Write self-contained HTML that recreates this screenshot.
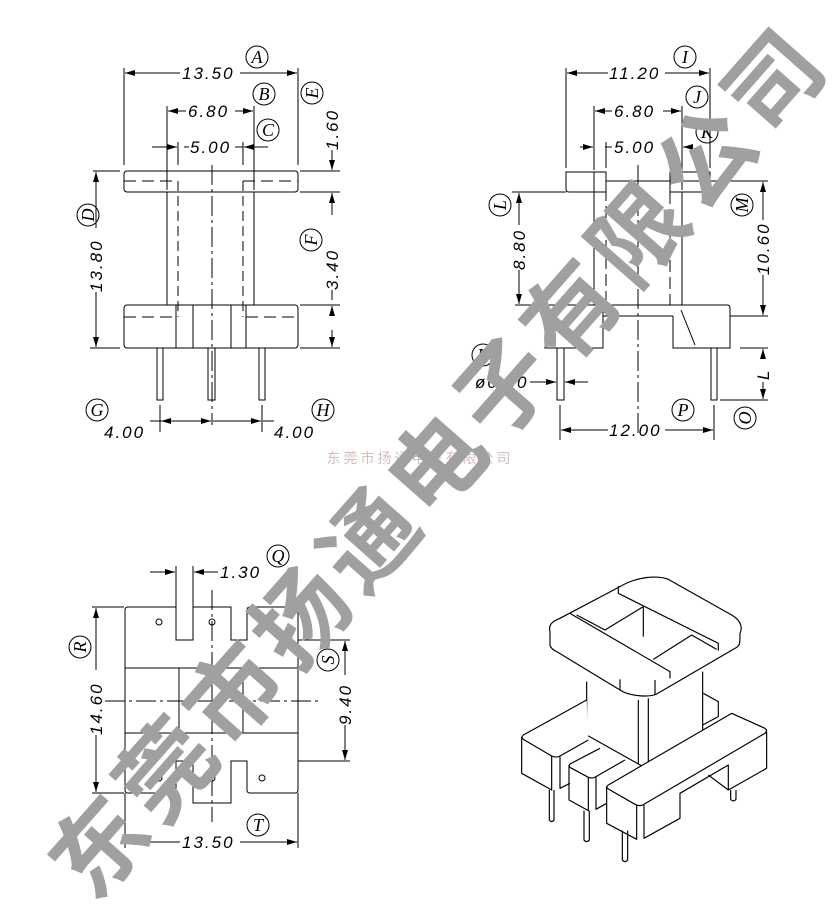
<!DOCTYPE html>
<html><head><meta charset="utf-8"><style>
html,body{margin:0;padding:0;background:#fff;}
svg{display:block;}
.n{font-family:"Liberation Sans",sans-serif;font-style:italic;font-size:17px;fill:#000;letter-spacing:2px}
.c{font-family:"Liberation Serif",serif;font-style:italic;font-size:18px;fill:#000;text-anchor:middle}
</style></head><body>
<svg width="839" height="910" viewBox="0 0 839 910" xmlns="http://www.w3.org/2000/svg">
<defs>
<marker id="a" viewBox="0 0 10 6" refX="10" refY="3" markerWidth="10" markerHeight="6" orient="auto-start-reverse" markerUnits="userSpaceOnUse"><path d="M0,0 L10,3 L0,6 Z" fill="#000"/></marker>
</defs>
<g stroke="#000" stroke-width="1" fill="none">
<!-- VIEW 1 -->
<rect x="124" y="171" width="174" height="21" rx="3"/>
<line x1="167" y1="192" x2="167" y2="305"/><line x1="254" y1="192" x2="254" y2="305"/>
<line x1="178" y1="181" x2="178" y2="317" stroke-dasharray="10,5"/><line x1="243" y1="181" x2="243" y2="317" stroke-dasharray="10,5"/>
<line x1="124" y1="181" x2="178" y2="181" stroke-dasharray="12,6"/><line x1="243" y1="181" x2="298" y2="181" stroke-dasharray="12,6"/>
<rect x="124" y="305" width="174" height="43" rx="3"/>
<line x1="124" y1="317" x2="176" y2="317" stroke-dasharray="12,6"/><line x1="246" y1="317" x2="298" y2="317" stroke-dasharray="12,6"/>
<line x1="176" y1="305" x2="176" y2="348"/><line x1="193" y1="305" x2="193" y2="348"/><line x1="231" y1="305" x2="231" y2="348"/><line x1="246" y1="305" x2="246" y2="348"/>
<line x1="212" y1="165" x2="212" y2="425" stroke-dasharray="20,4,3,4"/>
<rect x="157" y="348" width="6" height="52"/><rect x="208" y="348" width="7" height="52"/><rect x="259" y="348" width="6" height="52"/>
<line x1="124" y1="68" x2="124" y2="165"/><line x1="298" y1="68" x2="298" y2="165"/>
<line x1="167" y1="106" x2="167" y2="190"/><line x1="254" y1="106" x2="254" y2="190"/>
<line x1="178" y1="142" x2="178" y2="165"/><line x1="243" y1="142" x2="243" y2="165"/>
<line x1="125" y1="73" x2="180" y2="73" marker-start="url(#a)"/><line x1="240" y1="73" x2="297" y2="73" marker-end="url(#a)"/>
<line x1="168" y1="111" x2="186" y2="111" marker-start="url(#a)"/><line x1="235" y1="111" x2="253" y2="111" marker-end="url(#a)"/>
<line x1="152" y1="147" x2="177" y2="147" marker-end="url(#a)"/><line x1="268" y1="147" x2="244" y2="147" marker-end="url(#a)"/>
<line x1="184" y1="147" x2="189" y2="147"/><line x1="235" y1="147" x2="243" y2="147"/>
<line x1="93" y1="171" x2="120" y2="171"/><line x1="300" y1="171" x2="340" y2="171"/><line x1="300" y1="192" x2="340" y2="192"/>
<line x1="300" y1="305" x2="340" y2="305"/><line x1="90" y1="348" x2="120" y2="348"/><line x1="300" y1="348" x2="340" y2="348"/>
<line x1="96" y1="172" x2="96" y2="228" marker-start="url(#a)"/><line x1="96" y1="292" x2="96" y2="347" marker-end="url(#a)"/>
<line x1="332" y1="150" x2="332" y2="170" marker-end="url(#a)"/><line x1="332" y1="215" x2="332" y2="193" marker-end="url(#a)"/>
<line x1="332" y1="306" x2="332" y2="315" marker-start="url(#a)"/><line x1="332" y1="290" x2="332" y2="300"/><line x1="332" y1="330" x2="332" y2="347" marker-end="url(#a)"/>
<line x1="160" y1="405" x2="160" y2="432"/><line x1="262" y1="405" x2="262" y2="432"/>
<line x1="150" y1="421" x2="211" y2="421" marker-end="url(#a)"/><line x1="211" y1="421" x2="161" y2="421" marker-end="url(#a)"/>
<line x1="213" y1="421" x2="261" y2="421" marker-end="url(#a)"/><line x1="274" y1="421" x2="263" y2="421"/>

<!-- VIEW 2 -->
<path d="M566,172 H606 V192 H569 Q566,192 566,189 Z"/>
<path d="M670,172 H710 V189 Q710,192 707,192 H670 Z"/>
<line x1="606" y1="181" x2="768" y2="181"/>
<line x1="594" y1="172" x2="594" y2="305"/><line x1="682" y1="192" x2="682" y2="305"/>
<line x1="606" y1="172" x2="606" y2="305" stroke-dasharray="12,5"/><line x1="670" y1="192" x2="670" y2="305" stroke-dasharray="12,5"/>
<path d="M515,305 H727 Q730,305 730,308 V348 H673 V316"/>
<path d="M545,305 V348 H603 V305"/>
<line x1="603" y1="316" x2="673" y2="316"/><line x1="730" y1="316" x2="768" y2="316"/>
<line x1="580" y1="325" x2="575" y2="345"/><line x1="681" y1="310" x2="695" y2="345"/>
<line x1="638" y1="165" x2="638" y2="435" stroke-dasharray="20,4,3,4"/>
<rect x="557" y="348" width="7" height="52"/><rect x="711" y="348" width="6" height="52"/>
<line x1="566" y1="68" x2="566" y2="168"/><line x1="710" y1="68" x2="710" y2="168"/>
<line x1="594" y1="106" x2="594" y2="170"/><line x1="682" y1="106" x2="682" y2="190"/>
<line x1="606" y1="142" x2="606" y2="168"/><line x1="670" y1="142" x2="670" y2="168"/>
<line x1="567" y1="73" x2="608" y2="73" marker-start="url(#a)"/><line x1="665" y1="73" x2="709" y2="73" marker-end="url(#a)"/>
<line x1="595" y1="111" x2="612" y2="111" marker-start="url(#a)"/><line x1="663" y1="111" x2="681" y2="111" marker-end="url(#a)"/>
<line x1="580" y1="147" x2="593" y2="147" marker-end="url(#a)"/><line x1="692" y1="147" x2="683" y2="147" marker-end="url(#a)"/>
<line x1="605" y1="147" x2="612" y2="147"/>
<line x1="512" y1="192" x2="566" y2="192"/><line x1="740" y1="348" x2="768" y2="348"/><line x1="720" y1="400" x2="768" y2="400"/>
<line x1="519" y1="193" x2="519" y2="225" marker-start="url(#a)"/><line x1="519" y1="270" x2="519" y2="304" marker-end="url(#a)"/>
<line x1="763" y1="182" x2="763" y2="220" marker-start="url(#a)"/><line x1="763" y1="275" x2="763" y2="315" marker-end="url(#a)"/>
<line x1="763" y1="349" x2="763" y2="358" marker-start="url(#a)"/><line x1="763" y1="382" x2="763" y2="399" marker-end="url(#a)"/>
<line x1="560" y1="405" x2="560" y2="440"/><line x1="714" y1="405" x2="714" y2="440"/>
<line x1="561" y1="430" x2="608" y2="430" marker-start="url(#a)"/><line x1="665" y1="430" x2="713" y2="430" marker-end="url(#a)"/>
<line x1="530" y1="382" x2="556" y2="382" marker-end="url(#a)"/><line x1="588" y1="382" x2="565" y2="382" marker-end="url(#a)"/>

<!-- VIEW 3 -->
<path d="M128,607 H176 V640 H193 V607 H231 V640 H247 V610 Q247,607 250,607 H295 Q298,607 298,610 V790 Q298,793 295,793 H250 Q247,793 247,790 V761 H231 V803 H193 V761 H176 V790 Q176,793 173,793 H128 Q125,793 125,790 V610 Q125,607 128,607 Z"/>
<line x1="298" y1="640" x2="350" y2="640"/><line x1="298" y1="761" x2="350" y2="761"/>
<line x1="125" y1="668" x2="298" y2="668"/><line x1="125" y1="733" x2="298" y2="733"/>
<line x1="179" y1="668" x2="179" y2="733"/><line x1="243" y1="668" x2="243" y2="733"/>
<line x1="105" y1="701" x2="320" y2="701" stroke-dasharray="20,4,3,4"/>
<line x1="212" y1="590" x2="212" y2="822" stroke-dasharray="20,4,3,4"/>
<circle cx="159" cy="622" r="3"/><circle cx="212" cy="622" r="3"/><circle cx="262" cy="622" r="3"/>
<circle cx="159" cy="778" r="3"/><circle cx="212" cy="778" r="3"/><circle cx="262" cy="778" r="3"/>
<line x1="176" y1="566" x2="176" y2="607"/><line x1="193" y1="566" x2="193" y2="607"/>
<line x1="150" y1="572" x2="175" y2="572" marker-end="url(#a)"/><line x1="218" y1="572" x2="194" y2="572" marker-end="url(#a)"/>
<line x1="92" y1="607" x2="124" y2="607"/><line x1="92" y1="793" x2="124" y2="793"/>
<line x1="125" y1="793" x2="125" y2="848"/><line x1="298" y1="793" x2="298" y2="848"/>
<line x1="96" y1="608" x2="96" y2="670" marker-start="url(#a)"/><line x1="96" y1="735" x2="96" y2="792" marker-end="url(#a)"/>
<line x1="345" y1="641" x2="345" y2="675" marker-start="url(#a)"/><line x1="345" y1="725" x2="345" y2="760" marker-end="url(#a)"/>
<line x1="126" y1="842" x2="180" y2="842" marker-start="url(#a)"/><line x1="240" y1="842" x2="297" y2="842" marker-end="url(#a)"/>

<!-- 3D view -->
<g transform="translate(510,560) scale(0.3333)" stroke-width="3.5" stroke-linejoin="round">
<path d="M230,365 V525 L385,612 C395,620 410,620 415,615 L578,530 V335"/>
<line x1="385" y1="420" x2="385" y2="612"/><line x1="415" y1="415" x2="415" y2="615"/>
<path d="M120,215 C115,195 125,185 150,175 L330,80 C380,50 440,45 475,58 L665,165 C700,185 695,210 690,220 L460,352 C440,362 370,362 340,356 L150,245 C128,235 120,228 120,215 Z" fill="#fff"/>
<path d="M120,215 V255 C122,265 130,270 140,275 L330,390 C360,410 420,412 440,402 L680,262 C690,255 690,250 690,220" fill="#fff"/>
<line x1="330" y1="358" x2="330" y2="392"/><line x1="435" y1="360" x2="435" y2="405"/>
<path d="M180,160 L480,335 V355"/>
<path d="M325,78 V100 L625,250 V272"/>
<path d="M200,165 L285,210 L400,140"/><line x1="400" y1="140" x2="400" y2="230"/>
<path d="M430,298 L545,225 L620,268"/>
<path d="M580,400 L625,425 V470 L578,495"/>
<path d="M230,420 L40,525 C35,530 35,535 40,538 L125,588 C135,592 145,592 150,588 L235,540" fill="#fff"/>
<path d="M35,530 V640 L125,690 V588 M150,590 V685 L180,670"/>
<path d="M118,690 V780 Q125,790 132,780 V690"/>
<path d="M270,565 L180,612 C175,618 178,622 185,625 L235,652 C245,656 252,654 258,650 L345,600" fill="#fff"/>
<path d="M177,615 V720 L235,752 V652 M258,652 V748 L290,730"/>
<path d="M222,752 V840 Q230,850 238,840 V752"/>
<path d="M665,460 L295,675 C288,680 290,684 295,687 L375,733 C385,738 395,738 402,733 L765,520 C772,512 770,510 765,505 Z" fill="#fff"/>
<path d="M290,680 V790 L380,838 V735 M402,735 V835 L510,775 V700 L655,615 V690 L770,625 V515"/>
<path d="M595,645 L655,690"/>
<path d="M337,812 V900 Q345,910 353,900 V812"/>
<path d="M662,690 V718 Q670,728 678,718 V690"/>
</g>
</g>

<!-- text -->
<g>
<text class="n" x="182" y="79">13.50</text>
<text class="n" x="188" y="117">6.80</text>
<text class="n" x="190" y="153">5.00</text>
<text class="n" transform="translate(102,292) rotate(-90)">13.80</text>
<text class="n" transform="translate(338,150) rotate(-90)">1.60</text>
<text class="n" transform="translate(338,290) rotate(-90)">3.40</text>
<text class="n" x="104" y="438">4.00</text>
<text class="n" x="274" y="438">4.00</text>
<text class="n" x="609" y="79">11.20</text>
<text class="n" x="614" y="117">6.80</text>
<text class="n" x="614" y="153">5.00</text>
<text class="n" transform="translate(525,270) rotate(-90)">8.80</text>
<text class="n" transform="translate(769,275) rotate(-90)">10.60</text>
<text class="n" transform="translate(769,380) rotate(-90)">L</text>
<text class="n" x="475" y="388">ø0.60</text>
<text class="n" x="609" y="436">12.00</text>
<text class="n" x="220" y="578">1.30</text>
<text class="n" transform="translate(102,735) rotate(-90)">14.60</text>
<text class="n" transform="translate(351,725) rotate(-90)">9.40</text>
<text class="n" x="182" y="848">13.50</text>
</g>
<g fill="none" stroke="#000">
<circle cx="257" cy="57" r="11"/><circle cx="264" cy="94" r="11"/><circle cx="268" cy="130" r="11"/><circle cx="312" cy="93" r="11"/>
<circle cx="88" cy="215" r="11"/><circle cx="311" cy="240" r="11"/><circle cx="97" cy="410" r="11"/><circle cx="323" cy="410" r="11"/>
<circle cx="685" cy="57" r="11"/><circle cx="697" cy="97" r="11"/><circle cx="707" cy="132" r="11"/><circle cx="500" cy="205" r="11"/>
<circle cx="742" cy="205" r="11"/><circle cx="483" cy="355" r="11"/><circle cx="745" cy="418" r="11"/><circle cx="683" cy="410" r="11"/>
<circle cx="278" cy="556" r="11"/><circle cx="80" cy="647" r="11"/><circle cx="328" cy="660" r="11"/><circle cx="258" cy="825" r="11"/>
</g>
<g>
<text class="c" x="257" y="63">A</text><text class="c" x="264" y="100">B</text><text class="c" x="268" y="136">C</text>
<text class="c" transform="translate(318,93) rotate(-90)">E</text>
<text class="c" transform="translate(94,215) rotate(-90)">D</text>
<text class="c" transform="translate(317,240) rotate(-90)">F</text>
<text class="c" x="97" y="416">G</text><text class="c" x="323" y="416">H</text>
<text class="c" x="685" y="63">I</text><text class="c" x="697" y="103">J</text><text class="c" x="707" y="138">K</text>
<text class="c" transform="translate(506,205) rotate(-90)">L</text>
<text class="c" transform="translate(748,205) rotate(-90)">M</text>
<text class="c" x="483" y="361">N</text>
<text class="c" transform="translate(751,418) rotate(-90)">O</text>
<text class="c" x="683" y="416">P</text>
<text class="c" x="278" y="562">Q</text>
<text class="c" transform="translate(86,647) rotate(-90)">R</text>
<text class="c" transform="translate(334,660) rotate(-90)">S</text>
<text class="c" x="258" y="831">T</text>
</g>
<text x="420" y="463" text-anchor="middle" font-family="'Liberation Sans','Noto Sans CJK SC',sans-serif" font-size="14" fill="#d8bcbc" letter-spacing="3">东莞市扬通电子有限公司</text>
<text transform="translate(440,462) rotate(-48.6)" text-anchor="middle" dominant-baseline="central" font-family="'Liberation Sans','Noto Sans CJK SC',sans-serif" font-weight="bold" font-size="94" fill="#a0a0a0" letter-spacing="8">东莞市扬通电子有限公司</text>
</svg>
</body></html>
